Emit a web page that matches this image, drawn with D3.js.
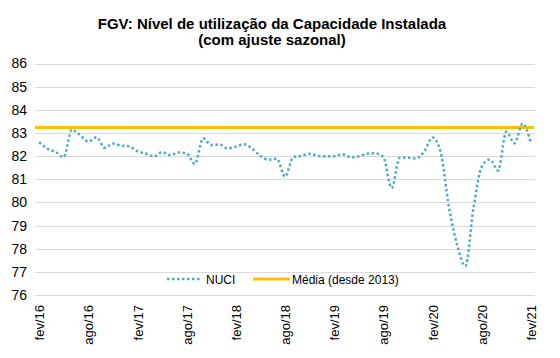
<!DOCTYPE html>
<html>
<head>
<meta charset="utf-8">
<script src="https://cdn.jsdelivr.net/npm/d3@7/dist/d3.min.js"></script>
<style>
  html, body { margin: 0; padding: 0; background: #fff; }
  svg { display: block; font-family: "Liberation Sans", Arial, sans-serif; }
</style>
</head>
<body>
<svg id="chart" width="560" height="358"></svg>
<script>
// ---- data ----
const monthAbbr = ["jan","fev","mar","abr","mai","jun","jul","ago","set","out","nov","dez"];
const startYear = 2016, startMonth = 1; // fev/16
const nuci = [
  82.6, 82.32, 82.18, 81.96, 83.14, 82.91, 82.63, 82.81, 82.36, 82.54,
  82.45, 82.42, 82.21, 82.11, 81.99, 82.17, 82.04, 82.16, 82.12, 81.66,
  82.77, 82.48, 82.5, 82.33, 82.41, 82.51, 82.32, 82.01, 81.84, 81.89,
  81.11, 81.95, 82.01, 82.1, 82.01, 81.99, 81.99, 82.08, 81.95, 81.99,
  82.1, 82.12, 81.96, 80.62, 81.93, 81.93, 81.9, 82.21, 82.8, 82.16,
  79.8, 78.16, 77.25, 79.76, 81.55, 81.85, 81.38, 83.05, 82.55, 83.4, 82.57
];
const media = 83.24;
const categories = nuci.map((_, i) => {
  const m = (startMonth + i) % 12;
  const yr = startYear + Math.floor((startMonth + i) / 12);
  return monthAbbr[m] + "/" + String(yr).slice(2);
});
const tickLabels = ["fev/16","ago/16","fev/17","ago/17","fev/18","ago/18","fev/19","ago/19","fev/20","ago/20","fev/21"];
const yTicks = [76,77,78,79,80,81,82,83,84,85,86];
const seriesNames = ["NUCI", "Média (desde 2013)"];

// ---- layout ----
const svg = d3.select("#chart");
const plotL = 35, plotR = 535, plotT = 63.5, plotB = 295;

const x = d3.scalePoint().domain(categories).range([plotL, plotR]).padding(0.5);
const y = d3.scaleLinear().domain([76, 86]).range([plotB, plotT]);

// title
const title = svg.append("text")
  .attr("text-anchor", "middle")
  .style("font-weight", "bold").style("font-size", "15px").attr("fill", "#000");
title.append("tspan").attr("x", 272).attr("y", 29).text("FGV: Nível de utilização da Capacidade Instalada");
title.append("tspan").attr("x", 272).attr("y", 45).text("(com ajuste sazonal)");

// gridlines
svg.append("g").selectAll("line").data(yTicks).join("line")
  .attr("x1", plotL).attr("x2", plotR)
  .attr("y1", d => Math.round(y(d)) + 0.5).attr("y2", d => Math.round(y(d)) + 0.5)
  .attr("stroke", "#d9d9d9").attr("stroke-width", 1);

// y axis labels
const yAxis = d3.axisLeft(y).tickValues(yTicks).tickSize(0).tickPadding(0).tickFormat(d3.format("d"));
const gy = svg.append("g").attr("transform", `translate(${plotL - 8},0)`).call(yAxis);
gy.select(".domain").remove();
gy.selectAll("text").style("font-size", "14px").attr("fill", "#000").style("font-family", "Liberation Sans, Arial, sans-serif");

// x axis labels
const xAxis = d3.axisBottom(x).tickValues(tickLabels).tickSize(0).tickPadding(0);
const gx = svg.append("g").attr("transform", `translate(0,${plotB + 10})`).call(xAxis);
gx.select(".domain").remove();
gx.selectAll("text")
  .style("font-size", "13px").attr("fill", "#000")
  .style("font-family", "Liberation Sans, Arial, sans-serif")
  .attr("text-anchor", "end")
  .attr("transform", "rotate(-90)")
  .attr("x", 0).attr("y", 0).attr("dx", 0).attr("dy", "0.35em");

// mean line
svg.append("line")
  .attr("x1", plotL).attr("x2", plotR - 1)
  .attr("y1", y(media)).attr("y2", y(media))
  .attr("stroke", "#ffc000").attr("stroke-width", 3);

// NUCI line
const line = d3.line().x((d, i) => x(categories[i])).y(d => y(d)).curve(d3.curveMonotoneX);
svg.append("path").datum(nuci)
  .attr("d", line)
  .attr("fill", "none")
  .attr("stroke", "#4bacc6")
  .attr("stroke-width", 2.5)
  .attr("stroke-dasharray", "2.5,2.5");

// legend
const lg = svg.append("g");
lg.append("line").attr("x1", 167).attr("x2", 202).attr("y1", 279).attr("y2", 279)
  .attr("stroke", "#4bacc6").attr("stroke-width", 2.5).attr("stroke-dasharray", "2.5,2.5");
lg.append("text").attr("x", 206).attr("y", 283.5).style("font-size", "12px").attr("fill", "#000").text(seriesNames[0]);
lg.append("line").attr("x1", 253).attr("x2", 290).attr("y1", 279).attr("y2", 279)
  .attr("stroke", "#ffc000").attr("stroke-width", 3);
lg.append("text").attr("x", 292).attr("y", 283.5).style("font-size", "12px").attr("fill", "#000").text(seriesNames[1]);
</script>
</body>
</html>
